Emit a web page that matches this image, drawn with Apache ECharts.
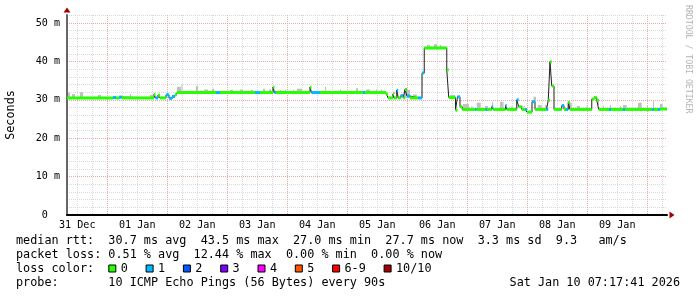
<!DOCTYPE html>
<html><head><meta charset="utf-8">
<script src="https://cdn.jsdelivr.net/npm/echarts@6/dist/echarts.min.js"></script>
<style>html,body{margin:0;padding:0;background:#fff}#c{width:697px;height:297px}</style>
</head><body><div id="c"></div>
<script>
// time in hours since 2025-12-31 00:00
const T0 = 7.9, T1 = 247.9;
const dayLabels = ['31 Dec','01 Jan','02 Jan','03 Jan','04 Jan','05 Jan','06 Jan','07 Jan','08 Jan','09 Jan'];
const yMax = 52.1; // ms

const segStart = [7.9,26.3,27.5,28.7,29.9,42.7,43.3,44.3,45.1,47.5,48.7,49.9,51.1,51.9,67.5,69.1,83.1,85.1,90.3,90.9,91.5,105.1,105.7,109.1,126.3,127.1,135.5,136.3,138.3,138.7,139.8,140.4,141.4,142.4,143.1,143.9,145.1,148.3,149.9,150.8,159.8,160.6,163.3,164.1,165.1,166.0,171.1,171.7,175.3,175.9,177.8,178.4,183.3,183.8,187.8,188.6,189.8,191.1,191.9,193.9,195.1,199.7,200.4,201.1,201.8,202.7,205.8,206.7,207.5,208.4,209.1,217.8,218.7,219.8,220.6,224.7,225.5,230.3,231.1,241.8,242.6,244.3,245.1];
const segMedian = [30.5,30.6,30.5,30.7,30.5,31.4,30.5,31.2,30.5,31.3,30.4,30.9,31.3,31.9,31.9,31.9,31.9,31.9,33.3,31.9,31.9,33.3,31.9,31.9,31.9,31.9,31.5,30.5,31.5,30.5,32.5,30.5,31.1,30.5,32.7,31.0,30.5,30.5,37.0,43.5,37.8,30.6,27.3,30.8,28.2,27.5,27.5,27.5,27.5,27.5,28.2,27.5,28.5,27.5,30.0,28.2,27.5,27.5,26.8,29.5,27.5,27.5,29.9,39.9,33.6,27.5,28.5,27.5,27.5,29.3,27.5,30.2,30.6,29.9,27.5,27.5,27.5,27.5,27.5,27.5,27.5,27.5,27.6];
const segLoss = [0,1,0,1,0,0,1,0,0,1, 1,1,0,0,1,0,1,0,0,1, 0,0,1,0,1,0,0,0,0,0, 1,0,1,0,0,1,0,1,1,0, 0,0,0,1,0,0,1,0,1,0, 1,0,1,0,1,0,0,1,0,1, 0,1,0,0,0,0,1,0,1,0, 0,0,0,0,0,1,0,1,0,1, 0,1,0];

const smokeFrom = [8.3,9.9,13.1,20.3,33.1,41.1,51.9,53.7,59.5,62.7,65.9,73.1,77.1,81.5,86.3,88.7,93.1,95.1,98.3,99.9,111.1,117.1,123.5,127.5,131.5,133.5,138.3,142.7,146.3,151.9,154.7,157.1,161.1,166.3,169.7,171.8,175.1,177.9,181.1,183.7,185.7,189.7,194.5,196.3,199.1,208.2,211.8,215.7,220.3,222.3,225.1,229.1,230.3,236.3,239.9,242.3,245.1];
const smokeTo = [9.1,11.1,14.3,21.5,33.5,42.3,53.5,54.1,60.3,64.3,66.7,74.3,78.3,82.3,87.1,89.5,93.5,95.5,98.7,101.9,111.5,117.5,124.3,129.1,131.9,133.9,139.1,145.1,147.9,153.1,155.9,157.5,163.1,168.7,170.1,173.4,176.3,178.3,182.5,184.1,186.1,191.1,195.5,197.8,199.8,209.8,213.1,216.1,220.7,222.7,225.5,229.5,231.8,237.8,240.3,242.7,246.2];
const smokeTop = [31.9,31.5,32.0,31.3,31.5,31.3,33.4,33.9,33.6,32.7,32.9,32.6,32.7,32.6,32.9,32.7,32.6,32.7,32.6,32.9,33.4,32.7,33.0,32.7,32.7,32.7,32.1,32.6,31.4,44.3,44.5,44.3,31.3,28.9,28.4,29.25,28.4,29.5,29.5,28.4,28.4,28.4,30.8,28.65,28.65,29.25,28.4,28.4,28.65,28.4,28.65,28.4,28.65,29.25,28.4,29.95,28.9];

const lossLabels = ['0','1','2','3','4','5','6-9','10/10'];
const lossColors = ['#26ff00','#00b8ff','#0059ff','#7e00ff','#ff00ff','#ff5500','#ff0000','#a10000'];

const statsRtt = 'median rtt:  30.7 ms avg  43.5 ms max  27.0 ms min  27.7 ms now  3.3 ms sd  9.3   am/s';
const statsLoss = 'packet loss: 0.51 % avg  12.44 % max  0.00 % min  0.00 % now';
const probeLine = 'probe:       10 ICMP Echo Pings (56 Bytes) every 90s';
const stampLine = 'Sat Jan 10 07:17:41 2026';

const MONO = 'DejaVu Sans Mono';
const FS = 11.8;      // legend text
const AXFS = 10.1;    // axis tick labels
const L = 67, W = 600, TOP = 15, H = 200;
const PX = W / (T1 - T0);
const MINOR = '#d9d9d9', MAJOR = '#e8a8a8';

function medianAt(t) {
  let m = segMedian[0];
  for (let i = 0; i < segStart.length; i++) { if (segStart[i] <= t) m = segMedian[i]; else break; }
  return m;
}

const segData = segStart.map((s, i) => [s, i + 1 < segStart.length ? segStart[i + 1] : T1, segMedian[i], segLoss[i]]);
const lineData = segStart.map((s, i) => [s, segMedian[i]]).concat([[T1, segMedian[segMedian.length - 1]]]);
const smokeData = smokeFrom.map((f, i) => [f, smokeTo[i], smokeTop[i], medianAt(f)]);

const hiddenY = k => ({gridIndex: k, type: 'value', min: 0, max: 1, show: false});

// legend graphics
const graphics = [];
const rowY = [241, 255, 269, 283.3];
const txt = (x, y, s, extra) => Object.assign({type: 'text', x: x, y: y, silent: true,
  style: Object.assign({text: s, font: FS + 'px "' + MONO + '"', fill: '#000', textVerticalAlign: 'middle', textAlign: 'left'}, extra || {})});
graphics.push(txt(16, rowY[0], statsRtt));
graphics.push(txt(16, rowY[1], statsLoss));
graphics.push(txt(16, rowY[2], 'loss color:'));
graphics.push(txt(16, rowY[3], probeLine));
graphics.push(txt(680, rowY[3], stampLine, {textAlign: 'right'}));
let bx = 108.3;
lossLabels.forEach((lab, i) => {
  graphics.push({type: 'rect', silent: true, shape: {x: bx + 0.5, y: rowY[2] - 4, width: 7, height: 7},
    style: {fill: lossColors[i], stroke: '#000', lineWidth: 1}});
  graphics.push(txt(bx + 12.4, rowY[2], lab));
  bx += 12.4 + lab.length * 7.1 + 17.8;
});
graphics.push({type: 'text', x: 688.5, y: 5, rotation: -Math.PI / 2, silent: true,
  style: {text: 'RRDTOOL / TOBI OETIKER', font: '8.2px "' + MONO + '"', fill: '#b4b4b4', textAlign: 'left', textVerticalAlign: 'middle'}});

const gridBase = {top: TOP, height: H, outerBoundsMode: 'none', containLabel: false};
const option = {
  animation: false,
  backgroundColor: '#fff',
  grid: [
    Object.assign({left: L, width: W}, gridBase),
    Object.assign({left: L - (T0 - 6) * PX, width: (T1 - 6) * PX}, gridBase),
    Object.assign({left: L - T0 * PX, width: T1 * PX}, gridBase),
    Object.assign({left: L + (12 - T0) * PX, width: (T1 - 12) * PX}, gridBase)
  ],
  xAxis: [
    {gridIndex: 0, type: 'value', min: T0, max: T1, z: 3,
      axisLine: {show: true, onZero: false, lineStyle: {color: '#000', width: 2}},
      axisTick: {show: false}, axisLabel: {show: false}, splitLine: {show: false}},
    {gridIndex: 1, type: 'value', min: 6, max: T1, interval: 6,
      axisLine: {show: false}, axisTick: {show: false}, axisLabel: {show: false},
      splitLine: {show: true, showMinLine: false, showMaxLine: false, lineStyle: {color: MINOR, type: 'dotted', width: 1}}},
    {gridIndex: 2, type: 'value', min: 0, max: T1, interval: 24, z: 1,
      axisLine: {show: true, onZero: false, symbol: ['none', 'triangle'], symbolSize: [7, 5], symbolOffset: [0, 5],
        lineStyle: {color: '#a00000', width: 0}},
      axisTick: {show: false}, axisLabel: {show: false},
      splitLine: {show: true, showMinLine: false, showMaxLine: false, lineStyle: {color: MAJOR, type: 'dotted', width: 1}}},
    {gridIndex: 3, type: 'value', min: 0, max: T1 - 12, interval: 24,
      axisLine: {show: false}, axisTick: {show: false}, splitLine: {show: false},
      axisLabel: {show: true, margin: 5, showMinLabel: true, showMaxLabel: false, hideOverlap: false,
        fontFamily: MONO, fontSize: AXFS, color: '#000',
        formatter: v => (Math.abs(v % 24) < 1e-6 && dayLabels[Math.round(v / 24)]) || ''}}
  ],
  yAxis: [
    {gridIndex: 0, type: 'value', min: 0, max: yMax, interval: 10, z: 2,
      name: 'Seconds', nameLocation: 'middle', nameGap: 50, nameRotate: 90,
      nameTextStyle: {fontFamily: MONO, fontSize: FS, color: '#000'},
      axisLine: {show: true, lineStyle: {color: '#666', width: 2}},
      axisTick: {show: false},
      axisLabel: {margin: 7, fontFamily: MONO, fontSize: AXFS, color: '#000', showMaxLabel: false,
        formatter: v => v === 0 ? '0  ' : (Math.abs(v % 10) < 1e-6 ? v + ' m' : '')},
      splitLine: {show: true, showMinLine: false, showMaxLine: false, lineStyle: {color: MAJOR, type: 'dotted', width: 1}}},
    {gridIndex: 0, type: 'value', min: 0, max: yMax, interval: 2, position: 'left', z: 1,
      axisLine: {show: true, symbol: ['none', 'triangle'], symbolSize: [7, 5], symbolOffset: [0, 5],
        lineStyle: {color: '#a00000', width: 0}},
      axisTick: {show: false}, axisLabel: {show: false},
      splitLine: {show: true, showMinLine: false, showMaxLine: false, lineStyle: {color: MINOR, type: 'dotted', width: 1}}},
    hiddenY(1), hiddenY(2), hiddenY(3)
  ],
  graphic: graphics,
  series: [
    {type: 'custom', name: 'smoke', xAxisIndex: 0, yAxisIndex: 0, z: 2, silent: true,
      data: smokeData, encode: {x: [0, 1], y: [2, 3]},
      renderItem: (params, api) => {
        const a = api.coord([api.value(0), api.value(2)]);
        const b = api.coord([api.value(1), api.value(3)]);
        return {type: 'rect', shape: {x: a[0], y: a[1], width: Math.max(1, b[0] - a[0]), height: b[1] - a[1]},
          style: {fill: '#c0c0c0'}};
      }},
    {type: 'line', name: 'median', xAxisIndex: 0, yAxisIndex: 0, z: 3, step: 'end', showSymbol: false,
      silent: true, data: lineData, lineStyle: {color: '#202020', width: 1}},
    {type: 'custom', name: 'loss', xAxisIndex: 0, yAxisIndex: 0, z: 4, silent: true,
      data: segData, encode: {x: [0, 1], y: 2},
      renderItem: (params, api) => {
        const a = api.coord([api.value(0), api.value(2)]);
        const b = api.coord([api.value(1), api.value(2)]);
        return {type: 'rect', shape: {x: a[0], y: a[1] - 1.5, width: b[0] - a[0], height: 3},
          style: {fill: lossColors[api.value(3)]}};
      }}
  ]
};
const chart = echarts.init(document.getElementById('c'), null, {renderer: 'canvas'});
chart.setOption(option);
</script></body></html>
